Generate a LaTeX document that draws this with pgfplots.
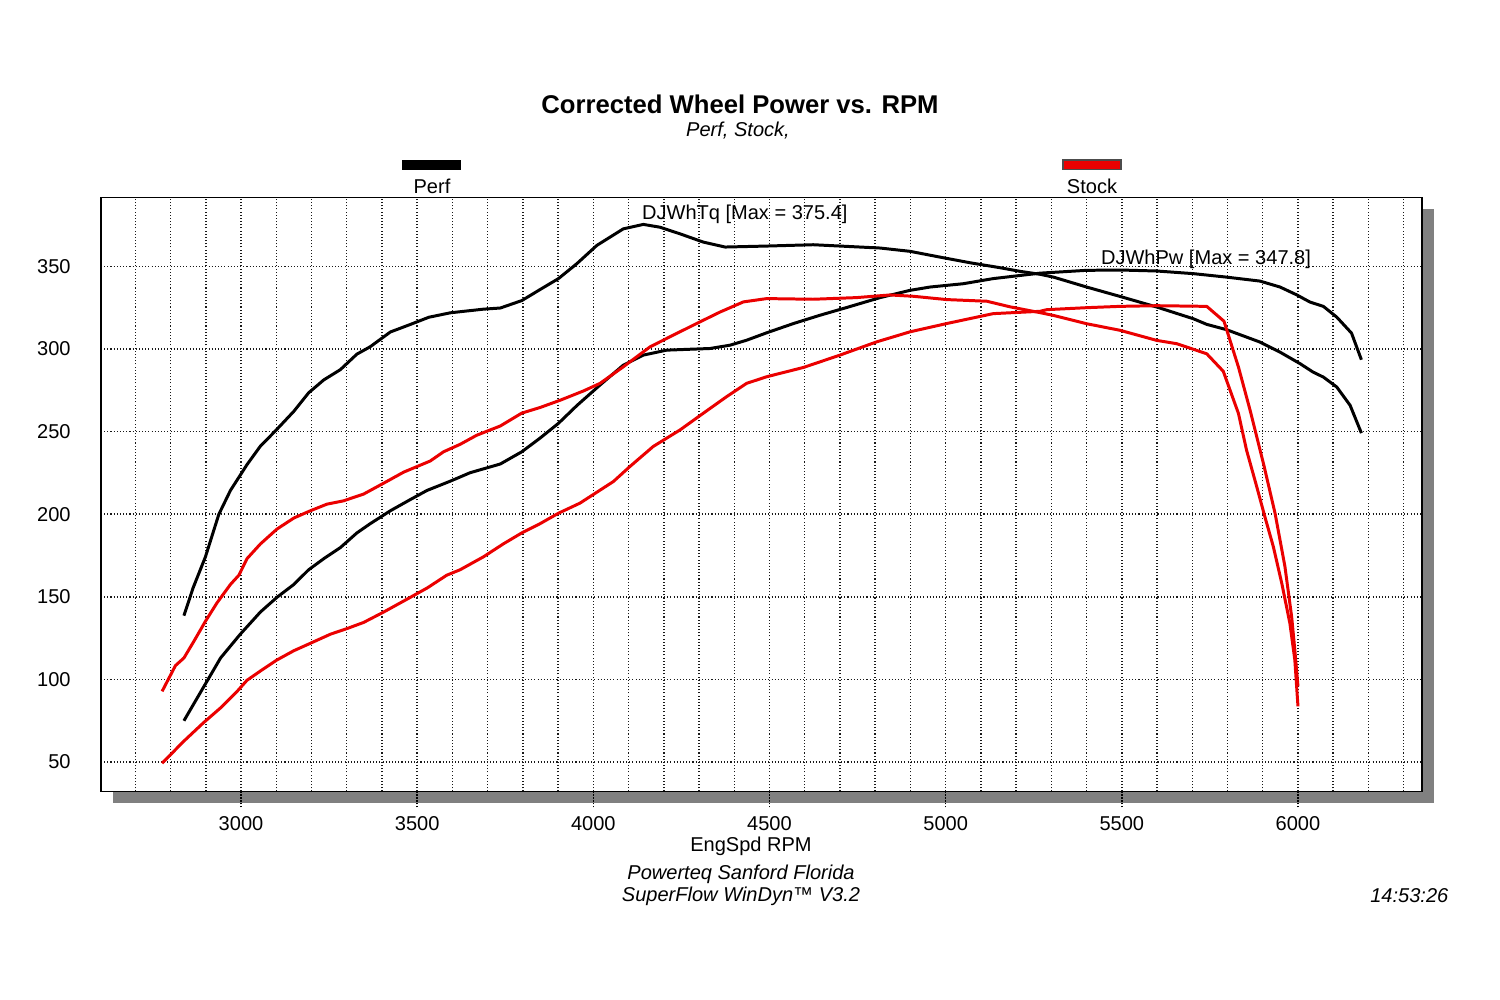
\documentclass[border=0pt]{standalone}
\usepackage{fontspec}
\setmainfont{Liberation Sans}
\usepackage{pgfplots}
\pgfplotsset{compat=1.18}
\usepackage{pgfplotstable}
\definecolor{dynred}{RGB}{235,0,0}
\definecolor{shadowgray}{RGB}{128,128,128}

\pgfplotstableread{
rpm val
2838 138.6
2864 155.4
2899 174.2
2937 199.9
2970 214.4
3017 230
3055 241.2
3098 250.5
3150 262.3
3192 273.5
3235 281.3
3282 287.5
3329 296.9
3367 301.4
3424 310.3
3480 314.8
3533 319.2
3594 321.9
3688 324.1
3736 324.8
3797 329.3
3849 336
3901 342.6
3953 351.6
4010 362.7
4085 372.7
4142 375.4
4189 373.7
4246 369.7
4312 364.7
4374 361.7
4492 362.3
4624 363.1
4700 362.3
4814 361.1
4899 359.1
4984 355.6
5069 352.2
5154 349.2
5211 347
5268 345.2
5306 343.5
5400 337.5
5495 331.8
5599 325.4
5703 318.3
5741 314.9
5797 311.7
5892 304.2
5949 298.1
6006 291.1
6043 286
6072 283
6110 277
6148 265.9
6180 249.1
}\perftq

\pgfplotstableread{
rpm val
2838 75
2899 97.3
2942 113
2998 127.4
3055 140.8
3102 149.7
3150 157.5
3192 166.4
3235 173.1
3282 179.8
3329 188.7
3367 194.3
3424 202.1
3480 208.8
3528 214.4
3594 220
3650 225.1
3736 230.4
3797 237.8
3849 246.1
3901 255
3953 265.7
4019 278.2
4085 290.2
4142 296.3
4208 299.3
4331 300.3
4388 302.3
4435 305.3
4492 309.8
4568 315.4
4643 320.4
4719 325.1
4814 331.1
4899 335.5
4956 337.5
5050 339.5
5135 342.6
5268 345.9
5400 347.6
5495 347.8
5599 347.2
5703 345.6
5797 343.5
5892 341.1
5949 337.5
5996 332.8
6034 328.4
6072 325.8
6110 319.3
6152 309.6
6180 293.5
}\perfpw

\pgfplotstableread{
rpm val
2776 92.8
2814 108.4
2838 113
2866 123
2899 135.2
2932 146.4
2970 157.5
2994 163.1
3017 173.1
3055 182
3102 191
3150 197.7
3197 202.1
3244 206.1
3291 208.1
3348 212.2
3405 218.8
3462 225.5
3537 232.2
3575 237.8
3622 242.3
3669 247.8
3736 253.4
3797 261.2
3849 264.6
3906 269
3972 274.6
4019 279.2
4085 289.2
4161 301.3
4227 308.4
4293 315.4
4360 322.4
4426 328.5
4492 330.5
4624 330.1
4747 331.1
4842 332.7
4908 331.9
5003 329.9
5117 328.9
5183 325.5
5268 322
5306 320.3
5400 315.3
5495 311.3
5599 305.2
5656 303.2
5741 297.1
5788 286.5
5831 261
5854 238.8
5883 216.6
5906 198.5
5930 180.4
5954 158.2
5977 134
5991 111.9
6000 83.7
}\stocktq

\pgfplotstableread{
rpm val
2776 49.3
2838 62.7
2894 73.9
2942 82.8
2989 92.8
3017 99.5
3055 105.1
3102 111.8
3150 117.4
3197 121.9
3254 127.4
3301 130.8
3348 134.5
3405 140.8
3462 147.5
3528 155.3
3584 163.1
3622 166.4
3688 174.2
3745 182.1
3797 188.7
3849 194.3
3901 200.6
3962 206.7
4057 219.8
4104 228.9
4170 241
4246 251
4312 261.1
4378 271.1
4435 279.2
4492 283.2
4596 288.8
4700 296.3
4804 304.3
4899 310.4
5003 315.4
5135 321.4
5268 322.8
5287 323.8
5400 325
5495 325.8
5599 326.2
5741 325.8
5790 316.8
5831 289.1
5864 263
5902 230.7
5935 200.5
5963 168.3
5982 138
5991 118
6000 95.8
}\stockpw

\newcommand{\smallfont}{\fontsize{5.7}{6.8}\selectfont}

\begin{document}
\begin{tikzpicture}
\path[use as bounding box] (0,0) rectangle (15,10);
\fill[shadowgray] (1.13,1.97) rectangle (14.34,7.91);
\begin{axis}[
  at={(1.01cm,2.085cm)}, anchor=south west,
  scale only axis, width=13.21cm, height=5.94cm,
  xmin=2602.6, xmax=6352, ymin=32.2, ymax=391.7,
  axis background/.style={fill=white},
  axis line style={black, line width=0.5pt},
  tick pos=left,
  xtick={3000,3500,...,6000},
  minor xtick={2700,2800,2900,3100,3200,3300,3400,3600,3700,3800,3900,4100,4200,4300,4400,4600,4700,4800,4900,5100,5200,5300,5400,5600,5700,5800,5900,6100,6200,6300},
  ytick={50,100,...,350},
  extra y ticks={40,50,...,390},
  extra y tick labels={},
  extra y tick style={grid=none, tick align=inside, major tick length=0.05cm,
    major tick style={solid, black, line width=0.35pt}},
  tick align=outside,
  major tick length=0.16cm,
  minor tick length=0pt,
  major x tick style={black, line width=0.4pt, dash pattern=on 0.3pt off 0.55pt},
  major y tick style={draw=none},
  xmajorgrids, xminorgrids, ymajorgrids,
  major grid style={black!90, line width=0.42pt, dash pattern=on 0.3pt off 0.6pt},
  minor grid style={black!90, line width=0.42pt, dash pattern=on 0.3pt off 0.6pt},
  tick label style={font=\smallfont},
  /pgf/number format/assume math mode=true,
  /pgf/number format/1000 sep={},
  xticklabel style={yshift=0.03cm},
  yticklabel style={xshift=-0.02cm},
  no markers,
  every axis plot/.append style={line width=0.85pt, line join=round},
]
\addplot[black] table[x=rpm,y=val] {\perftq};
\addplot[black] table[x=rpm,y=val] {\perfpw};
\addplot[dynred] table[x=rpm,y=val] {\stocktq};
\addplot[dynred] table[x=rpm,y=val] {\stockpw};
\node[font=\smallfont, inner sep=0pt] at (axis cs:4430,381.5) {DJWhTq [Max = 375.4]};
\node[font=\smallfont, inner sep=0pt] at (axis cs:5739,354.2) {DJWhPw [Max = 347.8]};
\end{axis}
% title and legend
\node[font=\fontsize{7.3}{8.8}\selectfont\bfseries, inner sep=0pt] at (7.40,8.96) {Corrected Wheel Power vs. RPM};
\node[font=\smallfont\itshape, inner sep=0pt] at (7.38,8.69) {Perf, Stock,};
\fill[black] (4.02,8.30) rectangle (4.61,8.40);
\node[font=\smallfont, inner sep=0pt] at (4.32,8.14) {Perf};
\filldraw[fill=dynred, draw=black!70, line width=0.3pt] (10.63,8.30) rectangle (11.21,8.40);
\node[font=\smallfont, inner sep=0pt] at (10.92,8.14) {Stock};
% bottom texts
\node[font=\smallfont, inner sep=0pt] at (7.51,1.54) {EngSpd RPM};
\node[font=\smallfont\itshape, inner sep=0pt] at (7.41,1.26) {Powerteq Sanford Florida};
\node[font=\smallfont\itshape, inner sep=0pt] at (7.41,1.04) {SuperFlow WinDyn™ V3.2};
\node[font=\smallfont\itshape, inner sep=0pt, anchor=east] at (14.49,1.04) {14:53:26};
\end{tikzpicture}
\end{document}
